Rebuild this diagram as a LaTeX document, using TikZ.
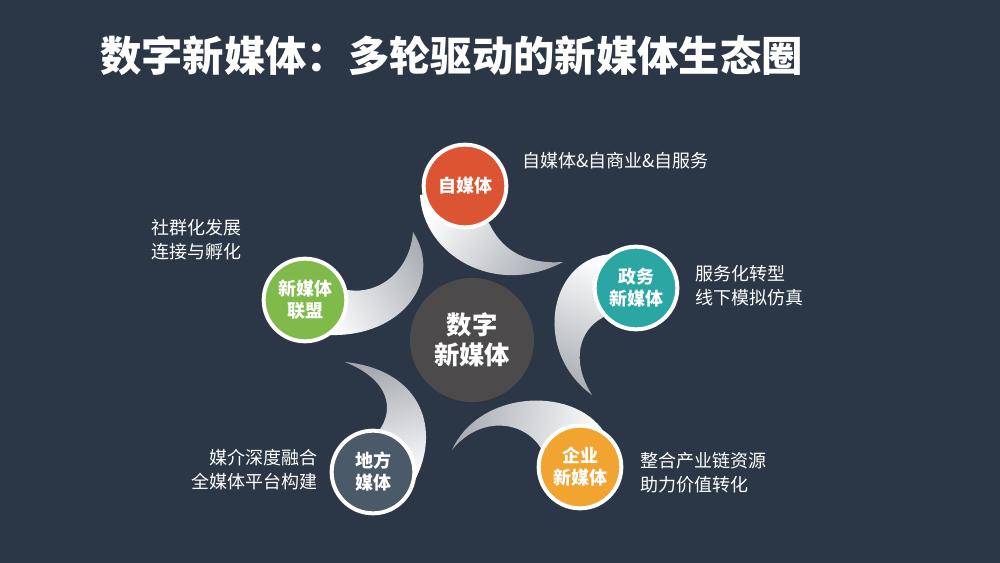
\documentclass[tikz,border=0pt]{standalone}
\usepackage{fontspec}
\setmainfont{Noto Sans CJK SC}
\definecolor{bgc}{HTML}{2B3646}
\definecolor{cred}{HTML}{DD5433}
\definecolor{cteal}{HTML}{2BA7A3}
\definecolor{corange}{HTML}{F2A431}
\definecolor{cslate}{HTML}{4B5A68}
\definecolor{cgreen}{HTML}{7FBA4A}
\definecolor{ccenter}{HTML}{4C4A4A}
\definecolor{tailgray}{HTML}{A6AAB0}
\begin{document}
\begin{tikzpicture}[x=0.75pt,y=-0.75pt,
  tail/.style={top color=white, bottom color=tailgray, draw=none},
  bubble/.style={circle, draw=white, line width=3pt, minimum size=62pt, inner sep=0pt,
    text=white, align=center, font=\bfseries\fontsize{13.5pt}{16.5pt}\selectfont},
  hub/.style={circle, fill=ccenter, minimum size=93pt, inner sep=0pt, text=white,
    align=center, font=\bfseries\fontsize{19pt}{22.5pt}\selectfont},
  note/.style={text=white, inner sep=0pt, font=\fontsize{13.5pt}{18pt}\selectfont}
]
\fill[bgc] (0,0) rectangle (1000,563);
\useasboundingbox (0,0) rectangle (1000,563);

\node[anchor=west, text=white, inner sep=0pt, font=\bfseries\fontsize{31pt}{36pt}\selectfont] (title) at (100,56) {数字新媒体：多轮驱动的新媒体生态圈};

% tails
\shade[tail, shading angle=52] (420,195) .. controls (423,255) and (495,298) .. (563,262) .. controls (520,265) and (500,245) .. (490,225) -- (465,186) -- cycle;
\shade[tail, shading angle=-22] (614,254) .. controls (550,255) and (530,350) .. (592,395) .. controls (570,360) and (580,330) .. (602,318) -- (636,288) -- cycle;
\shade[tail, shading angle=-98] (607,437) .. controls (580,385) and (480,388) .. (452,450) .. controls (480,415) and (525,420) .. (542,450) -- (580,467) -- cycle;
\shade[tail, shading angle=-166] (414,482) .. controls (442,430) and (422,370) .. (345,362) .. controls (390,380) and (395,410) .. (378,432) -- (373,472) -- cycle;
\shade[tail, shading angle=122] (330,335) .. controls (402,337) and (444,280) .. (413,232) .. controls (410,270) and (380,295) .. (348,290) -- (305,300) -- cycle;

% center
\node[hub] (hub) at (472,340) {数字\\新媒体};

% bubbles
\node[bubble, fill=cred] (zmt) at (465,186) {自媒体};
\node[bubble, fill=cteal] (zw) at (636,288) {政务\\新媒体};
\node[bubble, fill=corange] (qy) at (580,467) {企业\\新媒体};
\node[bubble, fill=cslate] (df) at (373,472) {地方\\媒体};
\node[bubble, fill=cgreen] (lm) at (305,300) {新媒体\\联盟};

% notes
\node[note, anchor=west] (n1) at (522,161) {自媒体\&自商业\&自服务};
\node[note, anchor=west, align=left] (n2) at (695,286) {服务化转型\\线下模拟仿真};
\node[note, anchor=west, align=left] (n3) at (640,473) {整合产业链资源\\助力价值转化};
\node[note, anchor=east, align=right] (n4) at (318,470) {媒介深度融合\\全媒体平台构建};
\node[note, anchor=west, align=left] (n5) at (151,240) {社群化发展\\连接与孵化};
\end{tikzpicture}
\end{document}
